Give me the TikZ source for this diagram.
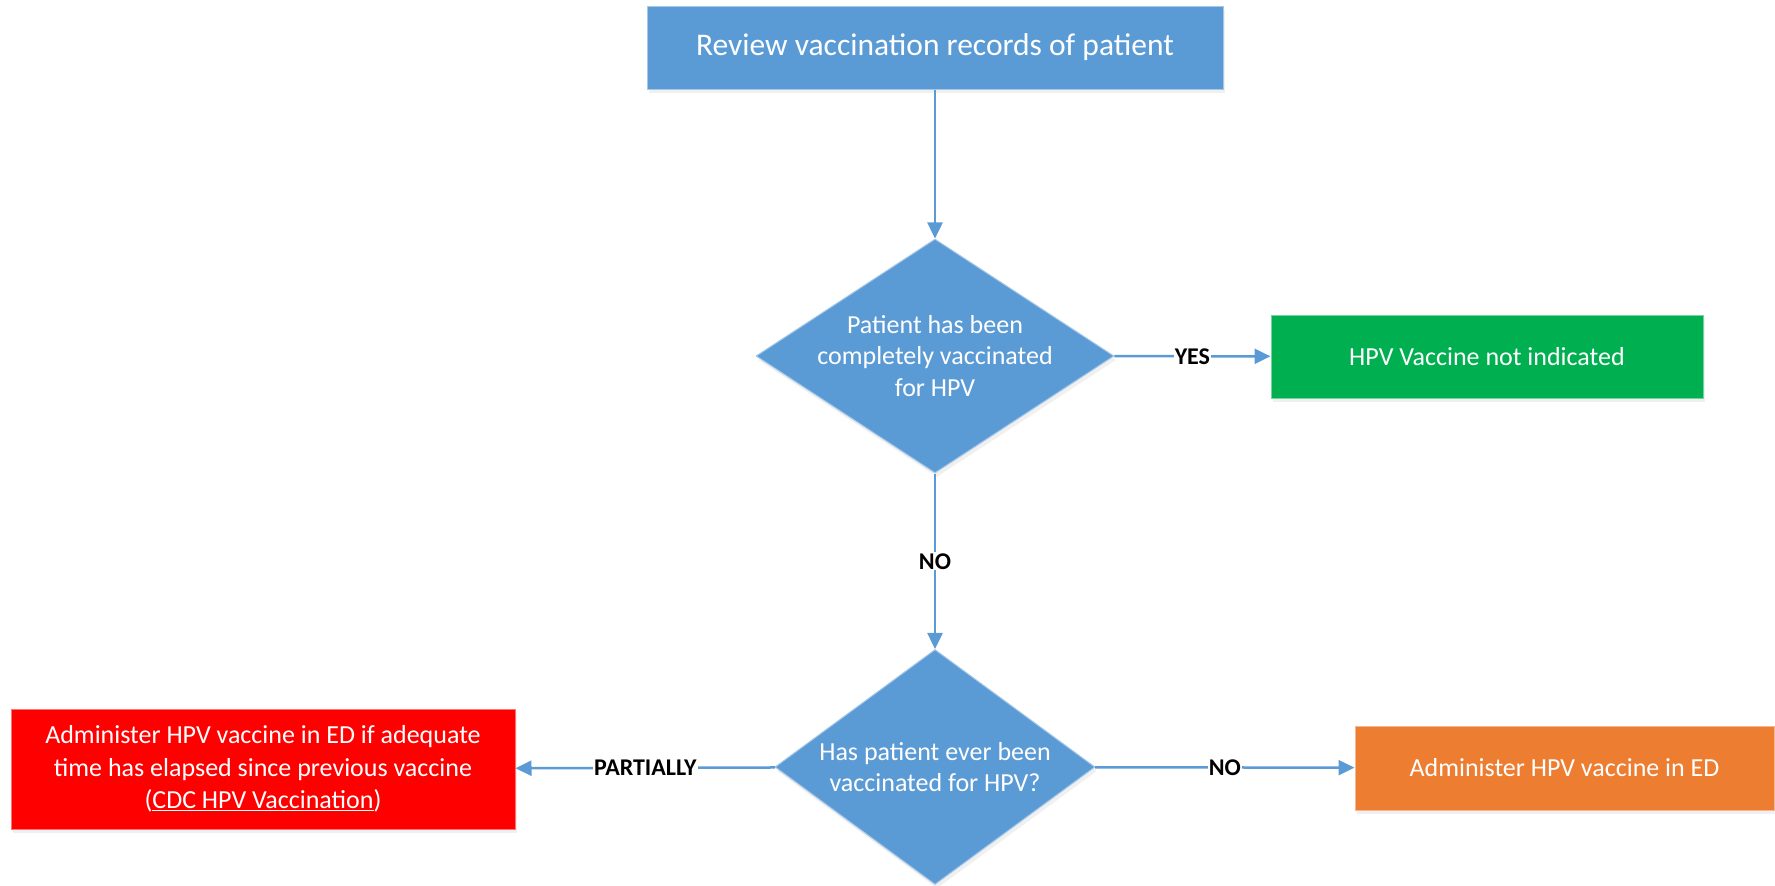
\documentclass[tikz,border=0pt]{standalone}
\usepackage{fontspec}
\setmainfont{Carlito}
\usetikzlibrary{shapes.geometric,arrows.meta,shadows}
\definecolor{cblue}{HTML}{5B9BD5}
\definecolor{cgreen}{HTML}{00B050}
\definecolor{corange}{HTML}{ED7D31}
\definecolor{cred}{HTML}{FF0000}
\begin{document}
\begin{tikzpicture}[x=1pt,y=-1pt,
  box/.style={rectangle, draw=#1!55!white, line width=1pt, fill=#1, text=white,
    inner sep=0pt, align=center, font=\fontsize{26}{32.5}\selectfont,
    drop shadow={opacity=0.12, shadow xshift=2pt, shadow yshift=-4pt}},
  dia/.style={diamond, draw=cblue!55!white, line width=1pt, fill=cblue, inner sep=0pt,
    drop shadow={opacity=0.12, shadow xshift=2pt, shadow yshift=-4pt}},
  dtext/.style={text=white, align=center, font=\fontsize{26}{31.5}\selectfont},
  conn/.style={draw=cblue, line width=2.5pt, -{Triangle[length=16pt,width=15pt]}},
  lbl/.style={fill=white, text=black, font=\bfseries\fontsize{24}{28}\selectfont, inner sep=1pt}
]
\useasboundingbox (0,0) rectangle (1775,886);

\node[box=cblue, minimum width=576pt, minimum height=83pt, font=\fontsize{31.5}{36}\selectfont] (top) at (935,47.5) {Review vaccination records of patient};

\node[dia, minimum width=358pt, minimum height=234pt,
  label={[dtext]center:{Patient has been\\completely vaccinated\\for HPV}}] (d1) at (935,356) {};

\node[box=cgreen, minimum width=432pt, minimum height=83pt] (green) at (1487,356.5) {HPV Vaccine not indicated};

\node[dia, minimum width=320pt, minimum height=235pt,
  label={[dtext]center:{Has patient ever been\\vaccinated for HPV?}}] (d2) at (935,767) {};

\node[box=corange, minimum width=419pt, minimum height=84pt] (orange) at (1564.5,768) {Administer HPV vaccine in ED};

\node[box=cred, minimum width=504pt, minimum height=120pt] (red) at (263,769) {Administer HPV vaccine in ED if adequate\\time has elapsed since previous vaccine\\(\underline{CDC HPV Vaccination})};

\draw[conn] (top) -- (d1);
\draw[conn] (d1) -- node[lbl]{YES} (green);
\draw[conn] (d1) -- node[lbl]{NO} (d2);
\draw[conn] (d2) -- node[lbl]{NO} (orange);
\draw[conn] (d2) -- node[lbl]{PARTIALLY} (red);
\end{tikzpicture}
\end{document}
